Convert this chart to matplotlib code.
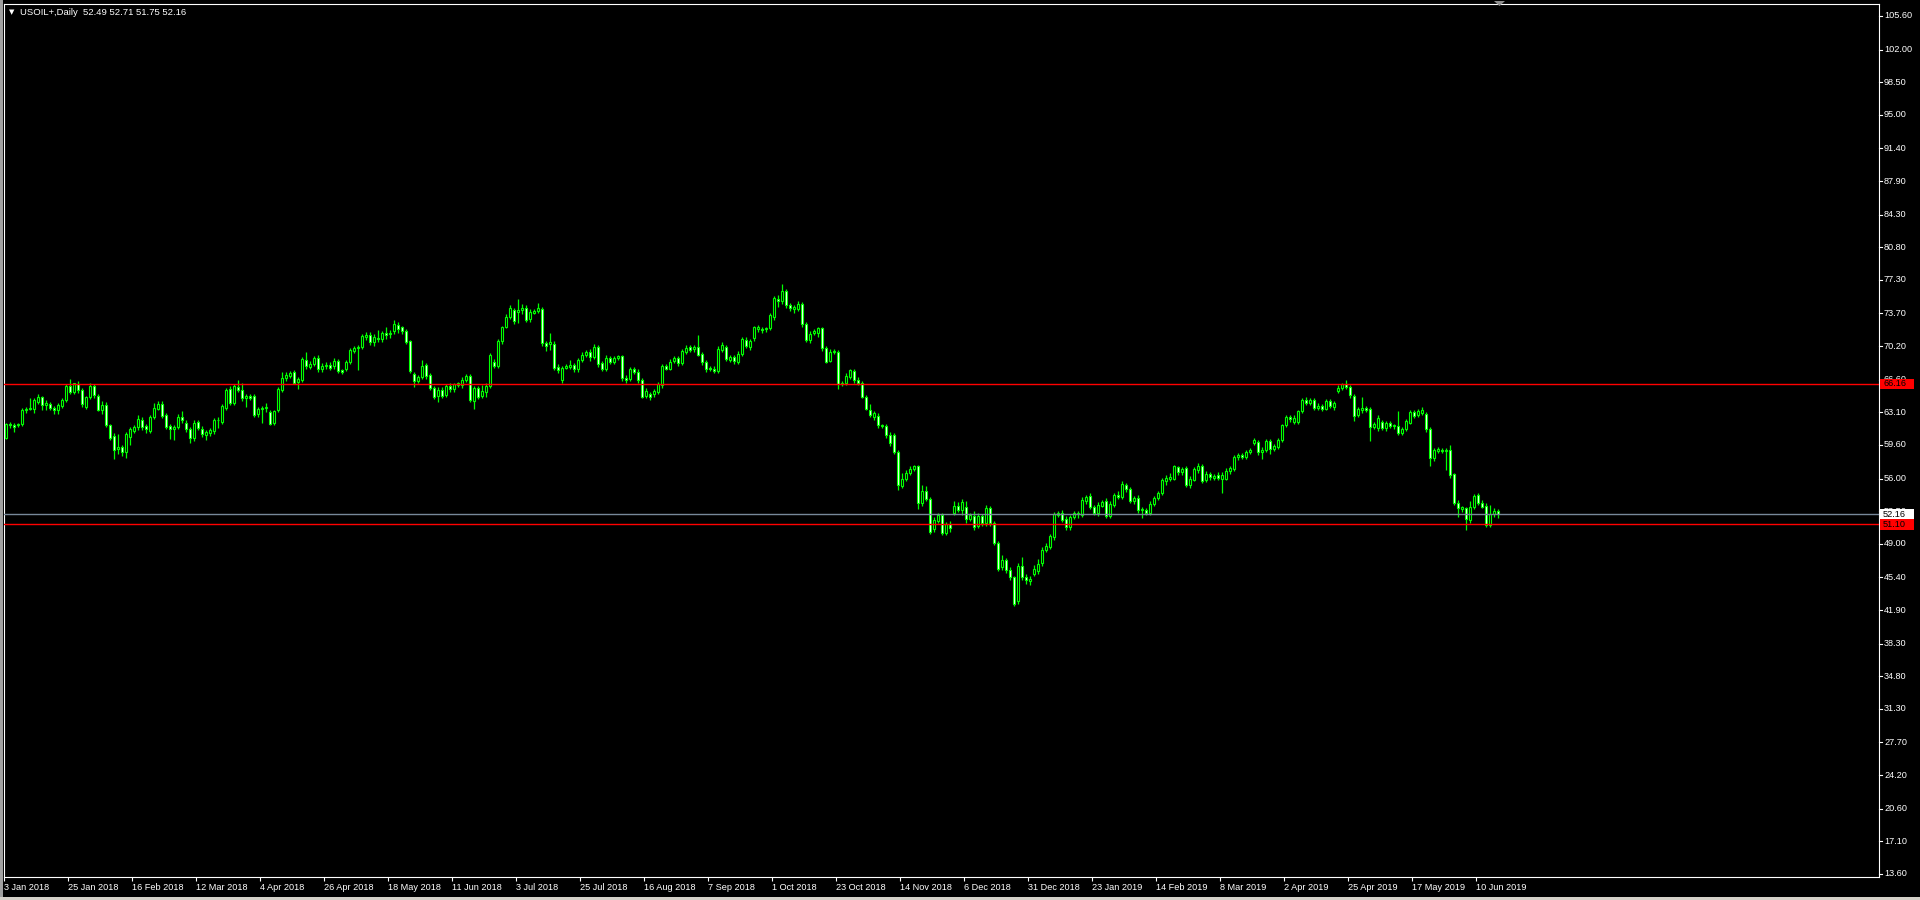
import matplotlib
matplotlib.use('Agg')
import matplotlib.pyplot as plt
from matplotlib.patches import Rectangle, Polygon
import numpy as np

plt.rcParams['font.family'] = ['Liberation Sans', 'DejaVu Sans']

title_text = 'USOIL+,Daily  52.49 52.71 51.75 52.16'

# daily bars, 16 per row (one row per date label)
opens = [
    60.35, 61.85, 61.75, 61.7, 61.85, 63.4, 63.5, 63.5, 64.2, 64.7, 63.9, 63.95, 63.6, 63.3, 63.8, 64.4,
    65.9, 65.3, 66.1, 65.5, 63.7, 64.7, 65.95, 64.9, 63.4, 63.9, 61.7, 60.6, 59.2, 59.35, 58.8, 60.5,
    61.1, 61.5, 62.3, 61.6, 61.1, 62.6, 63.5, 64.0, 62.8, 61.6, 61.3, 61.5, 62.6, 62.0, 61.3, 60.3,
    62.1, 61.3, 60.7, 60.9, 61.1, 62.3, 62.1, 63.6, 65.6, 64.1, 65.8, 65.5, 64.6, 64.9, 64.9, 62.9,
    63.5, 63.6, 63.1, 62.0, 63.3, 65.5, 66.75, 67.0, 67.4, 66.4, 66.6, 68.7, 68.0, 68.3, 68.9, 67.7,
    68.05, 68.2, 68.1, 68.6, 67.6, 67.7, 68.5, 69.7, 69.95, 70.1, 71.2, 71.4, 70.6, 71.1, 70.95, 71.6,
    71.45, 71.8, 72.5, 72.2, 71.8, 70.7, 67.2, 66.5, 66.9, 68.2, 67.1, 65.7, 64.9, 65.5, 65.0, 65.9,
    65.6, 66.0, 66.0, 66.6, 67.0, 64.3, 65.7, 64.9, 65.3, 65.9, 68.5, 68.1, 70.75, 72.3, 73.3, 74.1,
    73.9, 74.1, 74.3, 73.1, 73.8, 74.0, 74.15, 70.5, 70.4, 70.4, 68.0, 66.6, 67.9, 68.0, 68.2, 67.7,
    68.7, 69.3, 69.6, 69.0, 70.1, 68.4, 67.8, 68.9, 68.5, 68.9, 69.1, 66.8, 66.7, 67.75, 67.4, 66.6,
    64.9, 65.1, 65.1, 65.3, 66.0, 68.1, 67.8, 68.6, 68.9, 68.4, 69.6, 70.1, 69.9, 70.1, 69.4, 68.5,
    67.9, 67.8, 67.5, 69.8, 70.1, 68.7, 69.0, 68.5, 69.4, 70.9, 70.1, 71.1, 72.0, 72.0, 72.0, 72.1,
    73.3, 75.3, 75.0, 76.1, 74.6, 74.2, 74.2, 74.7, 72.6, 70.9, 71.6, 71.6, 72.1, 70.0, 68.6, 69.6,
    69.6, 66.1, 66.2, 66.9, 67.5, 66.6, 66.3, 64.8, 63.4, 62.6, 62.7, 61.7, 61.6, 60.7, 60.7, 58.9,
    55.2, 56.0, 56.6, 57.0, 57.3, 53.35, 54.7, 53.8, 50.6, 51.5, 52.1, 50.2, 51.1, 52.35, 53.1, 52.6,
    52.9, 51.7, 52.0, 50.9, 52.0, 51.2, 52.85, 51.2, 49.1, 46.5, 47.3, 46.2, 45.4, 42.9, 46.6, 45.4,
    45.05, 45.8, 46.1, 46.9, 48.3, 48.7, 49.7, 52.1, 52.3, 51.7, 50.8, 51.9, 52.2, 52.1, 53.6, 54.1,
    53.0, 52.35, 53.1, 53.6, 52.0, 53.2, 54.2, 54.0, 55.3, 54.9, 53.6, 53.9, 52.6, 52.6, 52.3, 53.3,
    53.95, 54.4, 55.7, 56.0, 56.0, 57.2, 56.7, 57.1, 55.3, 55.9, 56.9, 57.3, 55.8, 56.5, 56.1, 56.4,
    56.0, 56.0, 56.8, 57.0, 58.3, 58.5, 58.35, 58.9, 59.85, 59.9, 58.9, 59.06, 60.0, 59.2, 59.4, 60.1,
    61.7, 62.6, 62.1, 62.1, 63.2, 64.4, 64.1, 64.4, 63.6, 63.8, 63.5, 64.3, 63.7, 65.4, 65.7, 66.1,
    65.85, 64.9, 62.8, 63.4, 63.6, 63.5, 61.5, 61.4, 62.1, 61.4, 62.0, 61.6, 61.6, 60.85, 61.3, 62.0,
    63.1, 62.8, 63.0, 62.9, 61.3, 58.17, 58.95, 59.1, 59.0, 59.1, 56.45, 53.35, 52.7, 52.8, 51.6, 53.0,
    54.2, 53.35, 53.1, 51.0, 52.2, 52.49,
]
closes = [
    61.85, 61.75, 61.5, 61.9, 63.4, 63.5, 63.55, 64.4, 64.8, 63.9, 64.1, 63.6, 63.4, 63.9, 64.4, 65.9,
    65.3, 66.2, 65.5, 64.0, 64.7, 65.9, 65.0, 63.4, 63.9, 61.7, 60.4, 59.1, 59.4, 58.9, 60.8, 61.3,
    61.5, 62.4, 61.5, 61.3, 62.6, 63.6, 64.0, 62.7, 61.5, 61.3, 61.5, 62.6, 62.3, 61.3, 60.3, 62.0,
    61.4, 60.8, 61.0, 61.2, 62.3, 62.25, 63.8, 65.5, 64.1, 65.9, 65.5, 64.6, 64.9, 64.65, 62.8, 63.5,
    63.55, 63.7, 61.9, 63.2, 65.6, 66.8, 67.1, 67.3, 66.3, 66.7, 68.8, 68.1, 68.3, 68.9, 67.7, 68.1,
    68.2, 67.9, 68.6, 67.5, 67.4, 68.5, 69.8, 69.97, 70.1, 71.3, 71.4, 70.6, 71.2, 70.95, 71.6, 71.4,
    71.6, 72.6, 72.0, 71.8, 70.6, 67.5, 66.5, 66.9, 68.1, 67.0, 65.7, 64.8, 65.5, 64.9, 65.9, 65.6,
    66.1, 66.2, 66.6, 67.0, 64.4, 65.7, 64.8, 65.4, 65.9, 69.3, 68.1, 70.75, 72.2, 73.3, 74.3, 72.9,
    74.1, 74.3, 73.0, 73.9, 74.0, 74.3, 70.5, 70.2, 70.6, 67.9, 67.6, 67.9, 68.1, 68.2, 67.7, 68.7,
    69.3, 69.6, 69.0, 70.1, 68.3, 67.8, 68.9, 68.5, 68.9, 69.1, 66.75, 66.6, 67.75, 67.4, 66.6, 64.8,
    65.4, 64.8, 65.4, 66.1, 68.1, 67.8, 68.5, 68.9, 68.4, 69.7, 70.0, 69.8, 70.1, 69.3, 68.5, 67.8,
    67.8, 67.5, 69.9, 70.3, 68.8, 69.0, 68.6, 69.4, 71.0, 70.2, 70.8, 72.2, 72.2, 71.9, 72.1, 73.5,
    75.4, 75.0, 76.1, 74.6, 74.3, 74.4, 74.7, 72.6, 70.9, 71.5, 71.8, 72.1, 70.0, 68.5, 69.6, 69.7,
    66.1, 66.3, 67.0, 67.6, 66.6, 66.3, 64.8, 63.5, 62.8, 63.0, 61.7, 61.6, 60.7, 59.8, 58.8, 55.3,
    56.0, 56.6, 57.0, 57.3, 53.35, 54.7, 53.8, 50.3, 51.6, 52.1, 50.2, 51.1, 50.7, 53.1, 52.6, 53.5,
    51.7, 52.1, 50.85, 52.0, 51.2, 52.85, 51.2, 49.1, 46.3, 47.3, 46.2, 45.4, 42.6, 46.6, 45.4, 45.1,
    45.2, 46.3, 46.8, 48.3, 48.8, 49.8, 52.2, 52.3, 51.6, 50.8, 51.9, 52.3, 52.3, 53.7, 54.0, 52.9,
    52.35, 53.2, 53.5, 52.0, 53.25, 54.2, 54.0, 55.4, 54.85, 53.6, 53.95, 52.6, 52.7, 52.3, 53.3, 53.95,
    54.5, 55.85, 56.1, 56.2, 57.3, 56.7, 57.0, 55.3, 56.0, 57.0, 57.3, 55.7, 56.5, 56.2, 56.3, 56.1,
    56.4, 56.8, 57.1, 58.3, 58.5, 58.35, 58.9, 59.06, 60.1, 58.9, 59.06, 60.0, 59.2, 59.5, 60.1, 61.7,
    62.6, 62.35, 62.5, 63.2, 64.4, 64.1, 64.4, 63.6, 63.8, 63.5, 64.3, 63.8, 64.1, 65.7, 66.1, 65.85,
    64.96, 62.7, 63.5, 63.6, 63.3, 61.5, 61.85, 62.5, 61.4, 62.0, 61.6, 61.7, 60.85, 61.3, 62.2, 63.1,
    62.7, 63.2, 63.35, 61.3, 58.17, 59.06, 59.2, 58.95, 59.1, 56.4, 53.35, 52.8, 52.9, 51.7, 53.0, 54.1,
    53.35, 53.0, 51.0, 52.2, 52.5, 52.16,
]
# shadow lengths above / below the body
upper_wick = [
    0.1, 0.2, 0.2, 0.1, 0.2, 0.2, 1.1, 0.2, 0.3, 0.2, 0.3, 0.3, 0.2, 0.2, 0.2, 0.2,
    0.8, 0.1, 0.4, 0.2, 0.2, 0.3, 0.2, 0.2, 0.4, 0.3, 0.2, 0.3, 1.4, 0.2, 0.2, 0.2,
    0.2, 0.4, 0.3, 0.2, 0.2, 0.5, 0.3, 0.3, 0.2, 0.2, 0.2, 0.3, 0.6, 0.3, 0.2, 0.3,
    0.2, 0.3, 0.2, 0.2, 0.2, 0.3, 0.2, 0.2, 0.3, 0.2, 0.8, 0.7, 0.2, 0.2, 0.2, 0.2,
    0.2, 0.4, 0.2, 0.2, 0.2, 0.6, 0.3, 0.2, 0.2, 0.2, 0.2, 0.9, 0.3, 0.2, 0.3, 0.3,
    0.3, 0.3, 0.3, 0.2, 0.2, 0.2, 0.2, 0.2, 0.2, 0.2, 0.3, 0.3, 0.3, 0.8, 0.2, 0.6,
    0.3, 0.4, 0.3, 0.2, 0.2, 0.2, 0.2, 0.2, 0.6, 0.2, 0.2, 0.2, 0.3, 0.3, 0.2, 0.3,
    0.2, 0.2, 0.3, 0.2, 0.2, 0.2, 0.2, 0.6, 0.3, 0.2, 0.3, 0.2, 0.2, 0.3, 0.3, 0.2,
    1.2, 0.4, 0.3, 0.3, 0.2, 0.5, 0.2, 0.3, 1.0, 0.3, 0.3, 0.2, 0.2, 0.5, 0.2, 0.2,
    0.3, 0.2, 0.3, 0.3, 0.2, 0.2, 0.3, 0.2, 0.2, 0.2, 0.2, 0.3, 0.2, 0.2, 0.3, 0.2,
    0.3, 0.2, 0.2, 0.3, 0.2, 0.2, 0.3, 0.2, 0.2, 0.2, 0.3, 0.2, 0.2, 1.3, 0.2, 0.2,
    0.2, 0.3, 0.3, 0.3, 0.2, 0.2, 0.2, 0.3, 0.2, 0.3, 0.2, 0.2, 0.3, 0.2, 0.2, 0.2,
    0.2, 0.4, 0.75, 0.2, 0.2, 0.2, 0.3, 0.2, 0.2, 0.3, 0.2, 0.2, 0.2, 0.2, 0.3, 0.2,
    0.2, 0.2, 0.3, 0.2, 0.3, 0.3, 0.2, 0.2, 0.6, 0.2, 0.3, 0.2, 0.2, 0.3, 0.2, 0.2,
    0.6, 0.3, 0.3, 0.2, 0.2, 0.6, 0.5, 0.2, 0.3, 0.2, 0.2, 0.2, 0.3, 0.5, 0.4, 0.3,
    0.7, 0.2, 0.5, 0.3, 0.2, 0.3, 0.2, 0.2, 0.2, 0.5, 0.2, 0.3, 0.2, 0.3, 1.0, 0.4,
    0.4, 0.4, 0.6, 0.4, 0.3, 0.3, 0.2, 0.2, 0.3, 0.3, 0.2, 0.2, 0.2, 0.3, 0.2, 0.3,
    0.2, 0.3, 0.2, 0.3, 0.3, 0.3, 0.5, 0.3, 0.2, 0.2, 0.2, 0.3, 0.2, 0.2, 0.3, 0.2,
    0.2, 0.2, 0.3, 0.4, 0.2, 0.2, 0.2, 0.3, 0.3, 0.2, 0.4, 0.3, 0.3, 0.2, 0.2, 0.3,
    0.3, 0.3, 0.3, 0.2, 0.2, 0.2, 0.2, 0.2, 0.3, 0.2, 0.3, 0.2, 0.2, 0.2, 0.2, 0.2,
    0.2, 0.2, 0.3, 0.2, 0.2, 0.3, 0.2, 0.2, 0.3, 0.2, 0.2, 0.2, 0.2, 0.3, 0.2, 0.45,
    0.2, 0.2, 0.2, 1.1, 0.2, 0.2, 0.2, 0.3, 0.2, 0.2, 0.2, 0.2, 1.6, 0.2, 0.2, 0.3,
    0.3, 0.3, 0.3, 0.2, 0.2, 0.2, 0.2, 0.2, 0.2, 0.5, 0.2, 0.3, 0.2, 0.2, 0.6, 0.2,
    0.3, 0.3, 0.3, 1.0, 0.3, 0.22,
]
lower_wick = [
    0.1, 0.3, 0.5, 0.2, 0.2, 0.4, 0.2, 0.5, 0.2, 0.6, 0.5, 0.2, 0.5, 0.4, 0.2, 0.2,
    0.2, 0.2, 0.3, 0.3, 0.2, 0.2, 0.4, 0.2, 0.5, 0.2, 0.3, 1.0, 0.6, 0.5, 0.6, 0.9,
    0.2, 0.3, 0.3, 0.4, 0.2, 0.2, 0.2, 0.2, 0.2, 1.1, 1.2, 0.2, 0.3, 0.3, 0.5, 0.3,
    0.2, 0.3, 0.6, 0.3, 0.3, 0.8, 0.2, 0.3, 0.2, 0.2, 0.2, 0.3, 0.9, 0.2, 0.2, 0.3,
    1.5, 0.5, 0.2, 0.3, 0.2, 0.2, 0.3, 0.2, 0.2, 0.8, 0.2, 0.3, 0.3, 0.2, 0.3, 0.3,
    0.3, 0.3, 0.3, 0.2, 0.2, 0.2, 0.2, 0.2, 2.3, 0.2, 0.3, 0.3, 0.4, 0.3, 0.3, 0.4,
    0.4, 0.3, 0.4, 0.3, 0.2, 0.2, 0.7, 0.3, 0.2, 0.3, 0.2, 0.3, 0.7, 0.3, 0.2, 0.3,
    0.3, 0.2, 0.3, 0.2, 0.2, 0.8, 0.3, 0.3, 0.5, 0.2, 0.2, 0.2, 0.3, 0.2, 0.2, 0.3,
    1.2, 0.5, 0.2, 0.3, 0.2, 0.2, 0.3, 0.5, 0.6, 0.3, 0.3, 0.3, 0.2, 0.2, 0.3, 0.3,
    0.2, 0.3, 0.4, 0.2, 0.3, 0.3, 0.3, 0.2, 0.2, 0.2, 0.3, 0.3, 0.2, 0.2, 0.3, 0.2,
    0.3, 0.4, 0.3, 0.2, 0.3, 0.2, 0.2, 0.2, 0.3, 0.2, 0.2, 0.2, 0.3, 0.2, 0.3, 0.4,
    0.3, 0.2, 0.2, 0.2, 0.2, 0.2, 0.3, 0.2, 0.3, 0.2, 0.3, 0.3, 0.3, 0.3, 0.3, 0.2,
    0.3, 0.6, 0.3, 0.3, 0.3, 0.5, 0.2, 0.3, 0.3, 0.4, 0.2, 0.4, 0.3, 0.1, 0.1, 0.2,
    0.5, 0.2, 0.2, 0.2, 0.3, 0.3, 0.2, 0.2, 0.2, 0.3, 0.3, 0.2, 0.3, 0.3, 0.2, 0.5,
    0.2, 0.3, 0.2, 0.2, 0.6, 0.3, 0.2, 0.2, 0.3, 0.3, 0.3, 0.3, 0.4, 0.3, 0.2, 0.5,
    0.5, 0.3, 0.4, 0.2, 0.3, 0.3, 0.3, 0.2, 0.2, 0.3, 0.3, 0.3, 0.3, 0.3, 0.3, 0.4,
    0.5, 0.3, 0.3, 0.3, 0.2, 0.2, 0.3, 0.2, 0.3, 0.3, 0.3, 0.2, 0.4, 0.2, 0.3, 0.2,
    0.3, 0.4, 0.2, 0.2, 0.2, 0.3, 0.2, 0.2, 0.3, 0.2, 0.3, 0.3, 0.8, 0.2, 0.2, 0.2,
    0.3, 0.2, 0.4, 0.3, 0.2, 0.3, 0.3, 0.2, 0.3, 0.2, 0.3, 0.2, 0.2, 0.3, 0.2, 0.3,
    1.5, 0.2, 0.3, 0.2, 0.3, 0.2, 0.3, 0.3, 0.2, 0.4, 0.8, 0.2, 0.6, 0.2, 0.2, 0.2,
    0.2, 0.3, 0.3, 0.3, 0.2, 0.2, 0.2, 0.3, 0.2, 0.3, 0.2, 0.2, 0.3, 0.2, 0.2, 0.2,
    0.3, 0.5, 0.2, 0.4, 0.2, 1.5, 0.2, 0.3, 0.2, 0.3, 0.2, 0.3, 0.2, 0.2, 0.2, 0.2,
    0.2, 0.2, 0.2, 0.3, 0.8, 0.3, 0.2, 0.2, 2.1, 0.3, 0.2, 0.9, 0.3, 1.2, 0.4, 0.3,
    0.2, 0.2, 0.2, 0.2, 0.3, 0.41,
]

date_labels = ['3 Jan 2018', '25 Jan 2018', '16 Feb 2018', '12 Mar 2018', '4 Apr 2018',
               '26 Apr 2018', '18 May 2018', '11 Jun 2018', '3 Jul 2018', '25 Jul 2018',
               '16 Aug 2018', '7 Sep 2018', '1 Oct 2018', '23 Oct 2018', '14 Nov 2018',
               '6 Dec 2018', '31 Dec 2018', '23 Jan 2019', '14 Feb 2019', '8 Mar 2019',
               '2 Apr 2019', '25 Apr 2019', '17 May 2019', '10 Jun 2019']
bars_per_label = 16

price_labels = ['105.60', '102.00', '98.50', '95.00', '91.40', '87.90', '84.30', '80.80',
                '77.30', '73.70', '70.20', '66.60', '63.10', '59.60', '56.00', '52.50',
                '49.00', '45.40', '41.90', '38.30', '34.80', '31.30', '27.70', '24.20',
                '20.60', '17.10', '13.60']

level_lines = [66.16, 51.10]
bid_price = 52.16

W, H = 1920, 900
fig = plt.figure(figsize=(W / 100, H / 100), dpi=100, facecolor='black')

# plot area in pixels
left, right, top, bottom = 4, 1879, 4, 877
ax = fig.add_axes([left / W, 1 - bottom / H, (right - left) / W, (bottom - top) / H])
ax.set_facecolor('black')
ax_w = right - left
px_per_price = 9.326

o = np.array(opens)
c = np.array(closes)
body_top = np.maximum(o, c)
body_bot = np.minimum(o, c)
hi = body_top + np.array(upper_wick)
lo = body_bot - np.array(lower_wick)
x = np.arange(len(o))

green = '#00ff00'
ax.vlines(x, lo, hi, color=green, lw=0.9, zorder=2)
fills = np.where(c < o, 'white', 'black')
ax.bar(x, np.maximum(body_top - body_bot, 0.04), bottom=body_bot, width=0.5,
       color=fills, edgecolor=green, linewidth=0.8, zorder=3)

for lvl in level_lines:
    ax.axhline(lvl, color='#ff0000', lw=1.0, zorder=4)
ax.axhline(bid_price, color='#778899', lw=1.0, zorder=4)

ax.set_xlim(-0.425, (right - 5.7) / 4)
ax.set_ylim(105.6 - (bottom - 16) / px_per_price, 105.6 + (16 - top) / px_per_price)

for s in ax.spines.values():
    s.set_color('white')
    s.set_linewidth(0.8)

# date axis
tick_pos = np.arange(len(date_labels)) * bars_per_label - 0.425
ax.set_xticks(tick_pos, labels=date_labels)
ax.tick_params(axis='x', colors='white', length=3, width=0.8, pad=1.5, labelsize=6.6)
for lab in ax.get_xticklabels():
    lab.set_horizontalalignment('left')
ax.set_yticks([])

# price scale on the right
ytr = ax.get_yaxis_transform()
for lab in price_labels:
    v = float(lab)
    ax.plot([1.0, 1.0 + 3 / ax_w], [v, v], transform=ytr, color='white', lw=0.8, clip_on=False)
    ax.text(1.0 + 5 / ax_w, v, lab, transform=ytr, color='white', fontsize=6.6,
            va='center', ha='left', clip_on=False)

box_h = 10.5 / px_per_price
tags = [(bid_price, 'white'), (level_lines[1], '#ff0000'), (level_lines[0], '#ff0000')]
for v, col in tags:
    ax.add_patch(Rectangle((1.0 + 1 / ax_w, v - box_h / 2), 34 / ax_w, box_h, transform=ytr,
                           facecolor=col, edgecolor='none', clip_on=False, zorder=6))
    ax.text(1.0 + 4 / ax_w, v, f'{v:.2f}', transform=ytr, color='black', fontsize=6.6,
            va='center', ha='left', clip_on=False, zorder=7)

# header
fig.text(9 / W, 1 - 12.5 / H, '\u25bc', color='white', fontsize=5, va='center',
         family='DejaVu Sans')
fig.text(20 / W, 1 - 12.5 / H, title_text, color='white', fontsize=6.8, va='center')

# chart shift marker
fig.patches.append(Polygon([(1494 / W, 1 - 1 / H), (1505 / W, 1 - 1 / H), (1499.5 / W, 1 - 6 / H)],
                           closed=True, transform=fig.transFigure, facecolor='#909090',
                           edgecolor='none'))
# window frame
fig.patches.append(Rectangle((0, 0), 3 / W, 1, transform=fig.transFigure,
                             facecolor='#a0a0a0', edgecolor='none'))
fig.patches.append(Rectangle((0, 0), 1, 3 / H, transform=fig.transFigure,
                             facecolor='#d4d0c8', edgecolor='none'))

fig.savefig('out.png', dpi=100, facecolor='black')
